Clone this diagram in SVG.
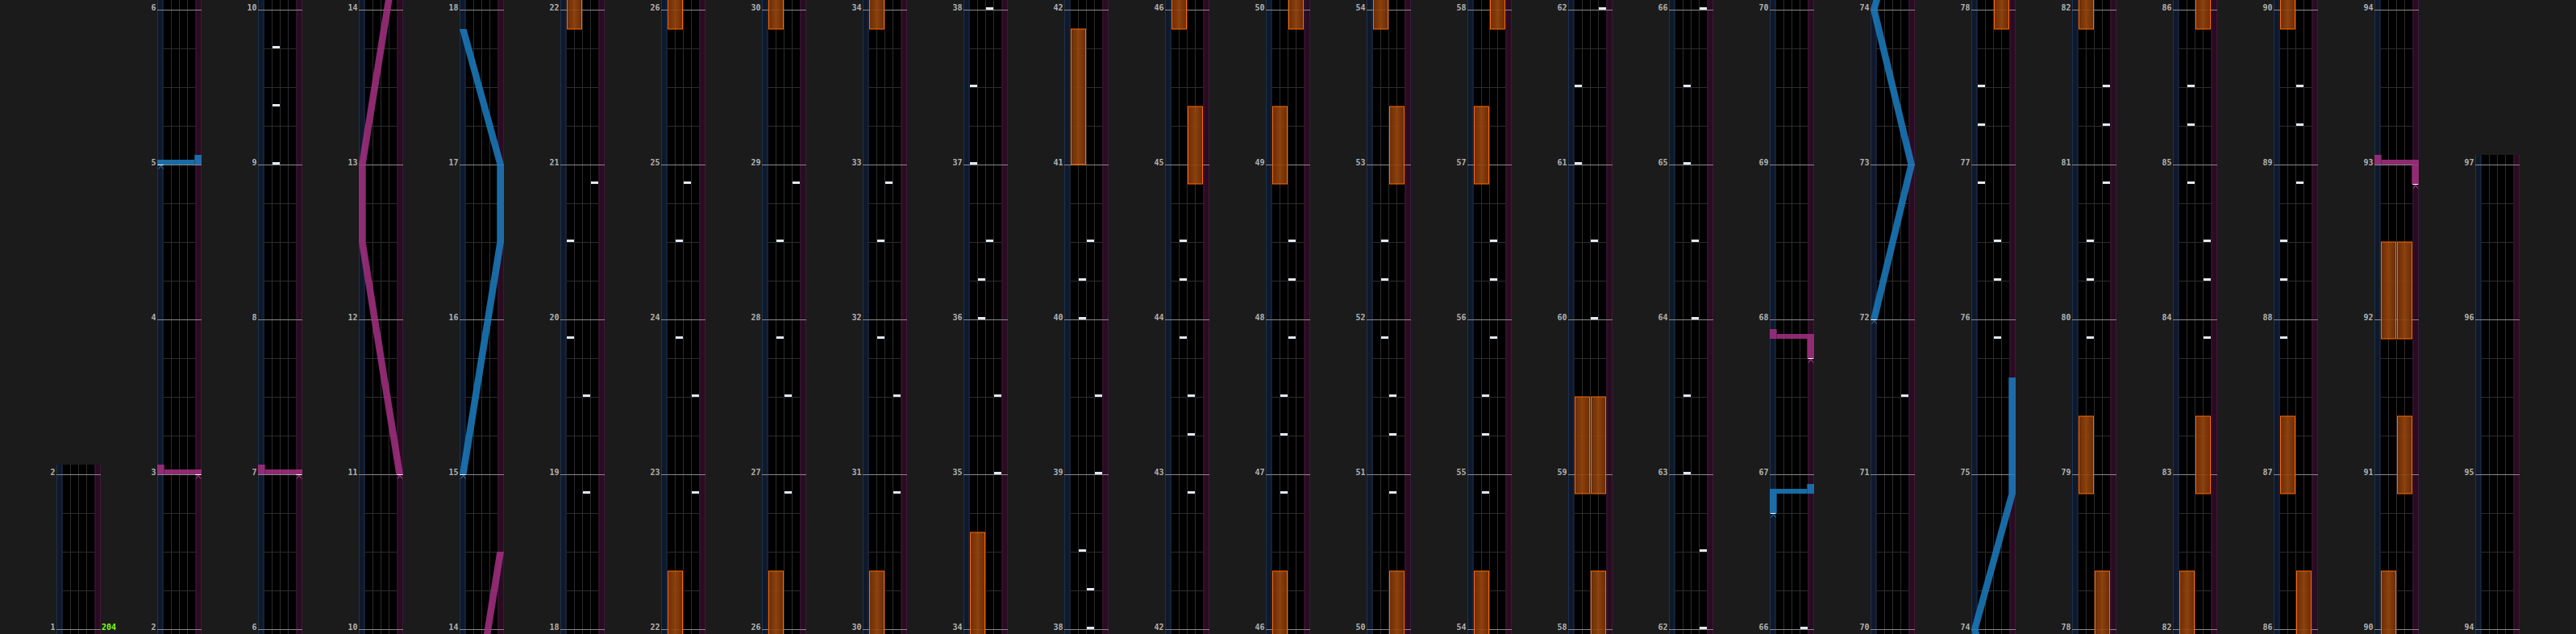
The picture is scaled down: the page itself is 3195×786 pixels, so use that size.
<svg xmlns="http://www.w3.org/2000/svg" width="3195" height="786" viewBox="0 0 3195 786">
<defs>
<style>
.ll{fill:#0f192c}
.rl{fill:#290c21}
.bt{fill:#000}
.le{stroke:#1c3250;stroke-width:1;fill:none}
.re{stroke:#421638;stroke-width:1;fill:none}
.ln{stroke:#2c2c2c;stroke-width:1;fill:none}
.ms{stroke:#8a8a8a;stroke-width:1;fill:none}
.lbl{font-family:"DejaVu Sans Mono","Liberation Mono",monospace;font-weight:bold;font-size:10px;fill:#b0b0b0;text-anchor:end}
.bpm{font-family:"DejaVu Sans Mono","Liberation Mono",monospace;font-weight:bold;font-size:10px;fill:#7dff1a}
.c{fill:#e2e9f2}
.fx{fill:url(#fxg);fill-opacity:.9;stroke:#ff6a00;stroke-width:1}
.lb{fill:#1c7dc0;fill-opacity:.85}
.lp{fill:#a53082;fill-opacity:.85}
.sw{fill:#ffffff}
.cb{stroke:#2f80c4;stroke-width:1;fill:none}
.cp{stroke:#c04a9a;stroke-width:1;fill:none}
</style>
<linearGradient id="fxg" x1="0" y1="0" x2="1" y2="0">
<stop offset="0" stop-color="#7a3005"/>
<stop offset="0.5" stop-color="#98480f"/>
<stop offset="1" stop-color="#7a3005"/>
</linearGradient>
<rect id="chip" width="9" height="3" class="c"/>
<rect id="fxl" x="8.5" width="18" height="96" class="fx"/>
<rect id="fxr" x="28.5" width="18" height="96" class="fx"/>
<g id="grid">
<rect x="0" y="0" width="7.5" height="786" class="ll"/>
<rect x="7.5" y="0" width="40" height="786" class="bt"/>
<rect x="47.5" y="0" width="7.5" height="786" class="rl"/>
<path class="le" d="M0.5 0V786M7 0V786"/>
<path class="re" d="M48 0V786M54.5 0V786"/>
<path class="ln" d="M17.5 0V786M27.5 0V786M37.5 0V786M7.5 60.5H47.5M7.5 108.5H47.5M7.5 156.5H47.5M7.5 252.5H47.5M7.5 300.5H47.5M7.5 348.5H47.5M7.5 444.5H47.5M7.5 492.5H47.5M7.5 540.5H47.5M7.5 636.5H47.5M7.5 684.5H47.5M7.5 732.5H47.5"/>
<path class="ms" d="M0 12.5H55M0 204.5H55M0 396.5H55M0 588.5H55M0 780.5H55"/>
</g>
<clipPath id="clip0"><rect x="-5" y="576" width="70" height="210"/></clipPath>
<clipPath id="clip24"><rect x="-5" y="192" width="70" height="594"/></clipPath>
</defs>
<rect width="3195" height="786" fill="#1b1b1b"/>

<g id="col0" transform="translate(70,0)">
<g clip-path="url(#clip0)"><use href="#grid"/></g>
<text class="lbl" x="-1.5" y="780.5">1</text><text class="lbl" x="-1.5" y="588.5">2</text>
<text class="bpm" x="56" y="780.5">204</text>
</g>

<g id="col1" transform="translate(195,0)">
<use href="#grid"/>
<text class="lbl" x="-1.5" y="780.5">2</text><text class="lbl" x="-1.5" y="588.5">3</text><text class="lbl" x="-1.5" y="396.5">4</text><text class="lbl" x="-1.5" y="204.5">5</text><text class="lbl" x="-1.5" y="12.5">6</text>
<rect class="lp" x="0" y="576" width="8.7" height="12"/><rect class="lp" x="8.7" y="582" width="46.3" height="6"/>
<rect class="sw" x="47.3" y="588" width="7" height="1"/><path class="cp" d="M48 593.5L51 589.5L54 593.5"/>
<rect class="lb" x="46.3" y="192" width="8.7" height="12"/><rect class="lb" x="0" y="198" width="46.3" height="6"/>
<rect class="sw" x="0.7" y="204" width="7" height="1"/><path class="cb" d="M1.5 209.5L4.5 205.5L7.5 209.5"/>
</g>

<g id="col2" transform="translate(320,0)">
<use href="#grid"/>
<text class="lbl" x="-1.5" y="780.5">6</text><text class="lbl" x="-1.5" y="588.5">7</text><text class="lbl" x="-1.5" y="396.5">8</text><text class="lbl" x="-1.5" y="204.5">9</text><text class="lbl" x="-1.5" y="12.5">10</text>
<rect class="lp" x="0" y="576" width="8.7" height="12"/><rect class="lp" x="8.7" y="582" width="46.3" height="6"/>
<rect class="sw" x="47.3" y="588" width="7" height="1"/><path class="cp" d="M48 593.5L51 589.5L54 593.5"/>
<use href="#chip" x="18" y="201"/><use href="#chip" x="18" y="129"/><use href="#chip" x="18" y="57"/>
</g>

<g id="col3" transform="translate(445,0)">
<use href="#grid"/>
<text class="lbl" x="-1.5" y="780.5">10</text><text class="lbl" x="-1.5" y="588.5">11</text><text class="lbl" x="-1.5" y="396.5">12</text><text class="lbl" x="-1.5" y="204.5">13</text><text class="lbl" x="-1.5" y="12.5">14</text>
<path class="lp" d="M46.3 588L0 300L0 204L46.3 -84L55 -84L8.7 204L8.7 300L55 588Z"/>
<rect class="sw" x="47.3" y="588" width="7" height="1"/><path class="cp" d="M48 593.5L51 589.5L54 593.5"/>
</g>

<g id="col4" transform="translate(570,0)">
<use href="#grid"/>
<text class="lbl" x="-1.5" y="780.5">14</text><text class="lbl" x="-1.5" y="588.5">15</text><text class="lbl" x="-1.5" y="396.5">16</text><text class="lbl" x="-1.5" y="204.5">17</text><text class="lbl" x="-1.5" y="12.5">18</text>
<path class="lp" d="M0 972L46.3 684L55 684L8.7 972Z"/>
<path class="lb" d="M0 588L46.3 300L46.3 204L0 36L8.7 36L55 204L55 300L8.7 588Z"/>
<rect class="sw" x="0.7" y="588" width="7" height="1"/><path class="cb" d="M1.5 593.5L4.5 589.5L7.5 593.5"/>
</g>

<g id="col5" transform="translate(695,0)">
<use href="#grid"/>
<text class="lbl" x="-1.5" y="780.5">18</text><text class="lbl" x="-1.5" y="588.5">19</text><text class="lbl" x="-1.5" y="396.5">20</text><text class="lbl" x="-1.5" y="204.5">21</text><text class="lbl" x="-1.5" y="12.5">22</text>
<use href="#chip" x="28" y="609"/><use href="#chip" x="28" y="489"/><use href="#chip" x="8" y="417"/><use href="#chip" x="8" y="297"/><use href="#chip" x="38" y="225"/>
<use href="#fxl" y="-60"/>
</g>

<g id="col6" transform="translate(820,0)">
<use href="#grid"/>
<text class="lbl" x="-1.5" y="780.5">22</text><text class="lbl" x="-1.5" y="588.5">23</text><text class="lbl" x="-1.5" y="396.5">24</text><text class="lbl" x="-1.5" y="204.5">25</text><text class="lbl" x="-1.5" y="12.5">26</text>
<use href="#fxl" y="708"/>
<use href="#chip" x="38" y="609"/><use href="#chip" x="38" y="489"/><use href="#chip" x="18" y="417"/><use href="#chip" x="18" y="297"/><use href="#chip" x="28" y="225"/>
<use href="#fxl" y="-60"/>
</g>

<g id="col7" transform="translate(945,0)">
<use href="#grid"/>
<text class="lbl" x="-1.5" y="780.5">26</text><text class="lbl" x="-1.5" y="588.5">27</text><text class="lbl" x="-1.5" y="396.5">28</text><text class="lbl" x="-1.5" y="204.5">29</text><text class="lbl" x="-1.5" y="12.5">30</text>
<use href="#fxl" y="708"/>
<use href="#chip" x="28" y="609"/><use href="#chip" x="28" y="489"/><use href="#chip" x="18" y="417"/><use href="#chip" x="18" y="297"/><use href="#chip" x="38" y="225"/>
<use href="#fxl" y="-60"/>
</g>

<g id="col8" transform="translate(1070,0)">
<use href="#grid"/>
<text class="lbl" x="-1.5" y="780.5">30</text><text class="lbl" x="-1.5" y="588.5">31</text><text class="lbl" x="-1.5" y="396.5">32</text><text class="lbl" x="-1.5" y="204.5">33</text><text class="lbl" x="-1.5" y="12.5">34</text>
<use href="#fxl" y="708"/>
<use href="#chip" x="38" y="609"/><use href="#chip" x="38" y="489"/><use href="#chip" x="18" y="417"/><use href="#chip" x="18" y="297"/><use href="#chip" x="28" y="225"/>
<rect class="fx" x="8.5" y="-108" width="18" height="144"/>
</g>

<g id="col9" transform="translate(1195,0)">
<use href="#grid"/>
<text class="lbl" x="-1.5" y="780.5">34</text><text class="lbl" x="-1.5" y="588.5">35</text><text class="lbl" x="-1.5" y="396.5">36</text><text class="lbl" x="-1.5" y="204.5">37</text><text class="lbl" x="-1.5" y="12.5">38</text>
<rect class="fx" x="8.5" y="660" width="18" height="144"/>
<use href="#chip" x="38" y="585"/><use href="#chip" x="38" y="489"/><use href="#chip" x="18" y="393"/><use href="#chip" x="18" y="345"/><use href="#chip" x="28" y="297"/><use href="#chip" x="8" y="201"/><use href="#chip" x="8" y="105"/><use href="#chip" x="28" y="9"/>
</g>

<g id="col10" transform="translate(1320,0)">
<use href="#grid"/>
<text class="lbl" x="-1.5" y="780.5">38</text><text class="lbl" x="-1.5" y="588.5">39</text><text class="lbl" x="-1.5" y="396.5">40</text><text class="lbl" x="-1.5" y="204.5">41</text><text class="lbl" x="-1.5" y="12.5">42</text>
<use href="#chip" x="28" y="777"/><use href="#chip" x="28" y="729"/><use href="#chip" x="18" y="681"/><use href="#chip" x="38" y="585"/><use href="#chip" x="38" y="489"/><use href="#chip" x="18" y="393"/><use href="#chip" x="18" y="345"/><use href="#chip" x="28" y="297"/>
<rect class="fx" x="8.5" y="36" width="18" height="168"/>
</g>

<g id="col11" transform="translate(1445,0)">
<use href="#grid"/>
<text class="lbl" x="-1.5" y="780.5">42</text><text class="lbl" x="-1.5" y="588.5">43</text><text class="lbl" x="-1.5" y="396.5">44</text><text class="lbl" x="-1.5" y="204.5">45</text><text class="lbl" x="-1.5" y="12.5">46</text>
<use href="#chip" x="28" y="609"/><use href="#chip" x="28" y="537"/><use href="#chip" x="28" y="489"/><use href="#chip" x="18" y="417"/><use href="#chip" x="18" y="345"/><use href="#chip" x="18" y="297"/>
<use href="#fxr" y="132"/><use href="#fxl" y="-60"/>
</g>

<g id="col12" transform="translate(1570,0)">
<use href="#grid"/>
<text class="lbl" x="-1.5" y="780.5">46</text><text class="lbl" x="-1.5" y="588.5">47</text><text class="lbl" x="-1.5" y="396.5">48</text><text class="lbl" x="-1.5" y="204.5">49</text><text class="lbl" x="-1.5" y="12.5">50</text>
<use href="#fxl" y="708"/>
<use href="#chip" x="18" y="609"/><use href="#chip" x="18" y="537"/><use href="#chip" x="18" y="489"/><use href="#chip" x="28" y="417"/><use href="#chip" x="28" y="345"/><use href="#chip" x="28" y="297"/>
<use href="#fxl" y="132"/><use href="#fxr" y="-60"/>
</g>

<g id="col13" transform="translate(1695,0)">
<use href="#grid"/>
<text class="lbl" x="-1.5" y="780.5">50</text><text class="lbl" x="-1.5" y="588.5">51</text><text class="lbl" x="-1.5" y="396.5">52</text><text class="lbl" x="-1.5" y="204.5">53</text><text class="lbl" x="-1.5" y="12.5">54</text>
<use href="#fxr" y="708"/>
<use href="#chip" x="28" y="609"/><use href="#chip" x="28" y="537"/><use href="#chip" x="28" y="489"/><use href="#chip" x="18" y="417"/><use href="#chip" x="18" y="345"/><use href="#chip" x="18" y="297"/>
<use href="#fxr" y="132"/><use href="#fxl" y="-60"/>
</g>

<g id="col14" transform="translate(1820,0)">
<use href="#grid"/>
<text class="lbl" x="-1.5" y="780.5">54</text><text class="lbl" x="-1.5" y="588.5">55</text><text class="lbl" x="-1.5" y="396.5">56</text><text class="lbl" x="-1.5" y="204.5">57</text><text class="lbl" x="-1.5" y="12.5">58</text>
<use href="#fxl" y="708"/>
<use href="#chip" x="18" y="609"/><use href="#chip" x="18" y="537"/><use href="#chip" x="18" y="489"/><use href="#chip" x="28" y="417"/><use href="#chip" x="28" y="345"/><use href="#chip" x="28" y="297"/>
<use href="#fxl" y="132"/><use href="#fxr" y="-60"/>
</g>

<g id="col15" transform="translate(1945,0)">
<use href="#grid"/>
<text class="lbl" x="-1.5" y="780.5">58</text><text class="lbl" x="-1.5" y="588.5">59</text><text class="lbl" x="-1.5" y="396.5">60</text><text class="lbl" x="-1.5" y="204.5">61</text><text class="lbl" x="-1.5" y="12.5">62</text>
<use href="#fxr" y="708"/>
<rect class="fx" x="8.5" y="492" width="18" height="120"/><rect class="fx" x="28.5" y="492" width="18" height="120"/>
<use href="#chip" x="28" y="393"/><use href="#chip" x="28" y="297"/><use href="#chip" x="8" y="201"/><use href="#chip" x="8" y="105"/><use href="#chip" x="38" y="9"/>
</g>

<g id="col16" transform="translate(2070,0)">
<use href="#grid"/>
<text class="lbl" x="-1.5" y="780.5">62</text><text class="lbl" x="-1.5" y="588.5">63</text><text class="lbl" x="-1.5" y="396.5">64</text><text class="lbl" x="-1.5" y="204.5">65</text><text class="lbl" x="-1.5" y="12.5">66</text>
<use href="#chip" x="38" y="777"/><use href="#chip" x="38" y="681"/><use href="#chip" x="18" y="585"/><use href="#chip" x="18" y="489"/><use href="#chip" x="28" y="393"/><use href="#chip" x="28" y="297"/><use href="#chip" x="18" y="201"/><use href="#chip" x="18" y="105"/><use href="#chip" x="38" y="9"/>
</g>

<g id="col17" transform="translate(2195,0)">
<use href="#grid"/>
<text class="lbl" x="-1.5" y="780.5">66</text><text class="lbl" x="-1.5" y="588.5">67</text><text class="lbl" x="-1.5" y="396.5">68</text><text class="lbl" x="-1.5" y="204.5">69</text><text class="lbl" x="-1.5" y="12.5">70</text>
<use href="#chip" x="38" y="777"/>
<rect class="lb" x="0" y="612" width="8.7" height="24"/><rect class="lb" x="0" y="606" width="46.3" height="6"/><rect class="lb" x="46.3" y="600" width="8.7" height="12"/>
<rect class="sw" x="0.7" y="636" width="7" height="1"/><path class="cb" d="M1.5 641.5L4.5 637.5L7.5 641.5"/>
<rect class="lp" x="46.3" y="420" width="8.7" height="24"/><rect class="lp" x="8.7" y="414" width="46.3" height="6"/><rect class="lp" x="0" y="408" width="8.7" height="12"/>
<rect class="sw" x="47.3" y="444" width="7" height="1"/><path class="cp" d="M48 449.5L51 445.5L54 449.5"/>
</g>

<g id="col18" transform="translate(2320,0)">
<use href="#grid"/>
<text class="lbl" x="-1.5" y="780.5">70</text><text class="lbl" x="-1.5" y="588.5">71</text><text class="lbl" x="-1.5" y="396.5">72</text><text class="lbl" x="-1.5" y="204.5">73</text><text class="lbl" x="-1.5" y="12.5">74</text>
<use href="#chip" x="38" y="489"/>
<path class="lb" d="M0 396L46.3 204L0 12L46.3 -156L55 -156L8.7 12L55 204L8.7 396Z"/>
<rect class="sw" x="0.7" y="396" width="7" height="1"/><path class="cb" d="M1.5 401.5L4.5 397.5L7.5 401.5"/>
</g>

<g id="col19" transform="translate(2445,0)">
<use href="#grid"/>
<text class="lbl" x="-1.5" y="780.5">74</text><text class="lbl" x="-1.5" y="588.5">75</text><text class="lbl" x="-1.5" y="396.5">76</text><text class="lbl" x="-1.5" y="204.5">77</text><text class="lbl" x="-1.5" y="12.5">78</text>
<path class="lb" d="M46.3 972L0 780L46.3 612L46.3 468L55 468L55 612L8.7 780L55 972Z"/>
<use href="#chip" x="28" y="417"/><use href="#chip" x="28" y="345"/><use href="#chip" x="28" y="297"/><use href="#chip" x="8" y="225"/><use href="#chip" x="8" y="153"/><use href="#chip" x="8" y="105"/>
<use href="#fxr" y="-60"/>
</g>

<g id="col20" transform="translate(2570,0)">
<use href="#grid"/>
<text class="lbl" x="-1.5" y="780.5">78</text><text class="lbl" x="-1.5" y="588.5">79</text><text class="lbl" x="-1.5" y="396.5">80</text><text class="lbl" x="-1.5" y="204.5">81</text><text class="lbl" x="-1.5" y="12.5">82</text>
<use href="#fxr" y="708"/><use href="#fxl" y="516"/>
<use href="#chip" x="18" y="417"/><use href="#chip" x="18" y="345"/><use href="#chip" x="18" y="297"/><use href="#chip" x="38" y="225"/><use href="#chip" x="38" y="153"/><use href="#chip" x="38" y="105"/>
<use href="#fxl" y="-60"/>
</g>

<g id="col21" transform="translate(2695,0)">
<use href="#grid"/>
<text class="lbl" x="-1.5" y="780.5">82</text><text class="lbl" x="-1.5" y="588.5">83</text><text class="lbl" x="-1.5" y="396.5">84</text><text class="lbl" x="-1.5" y="204.5">85</text><text class="lbl" x="-1.5" y="12.5">86</text>
<use href="#fxl" y="708"/><use href="#fxr" y="516"/>
<use href="#chip" x="38" y="417"/><use href="#chip" x="38" y="345"/><use href="#chip" x="38" y="297"/><use href="#chip" x="18" y="225"/><use href="#chip" x="18" y="153"/><use href="#chip" x="18" y="105"/>
<use href="#fxr" y="-60"/>
</g>

<g id="col22" transform="translate(2820,0)">
<use href="#grid"/>
<text class="lbl" x="-1.5" y="780.5">86</text><text class="lbl" x="-1.5" y="588.5">87</text><text class="lbl" x="-1.5" y="396.5">88</text><text class="lbl" x="-1.5" y="204.5">89</text><text class="lbl" x="-1.5" y="12.5">90</text>
<use href="#fxr" y="708"/><use href="#fxl" y="516"/>
<use href="#chip" x="8" y="417"/><use href="#chip" x="8" y="345"/><use href="#chip" x="8" y="297"/><use href="#chip" x="28" y="225"/><use href="#chip" x="28" y="153"/><use href="#chip" x="28" y="105"/>
<use href="#fxl" y="-60"/>
</g>

<g id="col23" transform="translate(2945,0)">
<use href="#grid"/>
<text class="lbl" x="-1.5" y="780.5">90</text><text class="lbl" x="-1.5" y="588.5">91</text><text class="lbl" x="-1.5" y="396.5">92</text><text class="lbl" x="-1.5" y="204.5">93</text><text class="lbl" x="-1.5" y="12.5">94</text>
<use href="#fxl" y="708"/><use href="#fxr" y="516"/>
<rect class="fx" x="8.5" y="300" width="18" height="120"/><rect class="fx" x="28.5" y="300" width="18" height="120"/>
<rect class="lp" x="46.3" y="204" width="8.7" height="24"/><rect class="lp" x="8.7" y="198" width="46.3" height="6"/><rect class="lp" x="0" y="192" width="8.7" height="12"/>
<rect class="sw" x="47.3" y="228" width="7" height="1"/><path class="cp" d="M48 233.5L51 229.5L54 233.5"/>
</g>

<g id="col24" transform="translate(3070,0)">
<g clip-path="url(#clip24)"><use href="#grid"/></g>
<text class="lbl" x="-1.5" y="780.5">94</text><text class="lbl" x="-1.5" y="588.5">95</text><text class="lbl" x="-1.5" y="396.5">96</text><text class="lbl" x="-1.5" y="204.5">97</text>
</g>
</svg>
